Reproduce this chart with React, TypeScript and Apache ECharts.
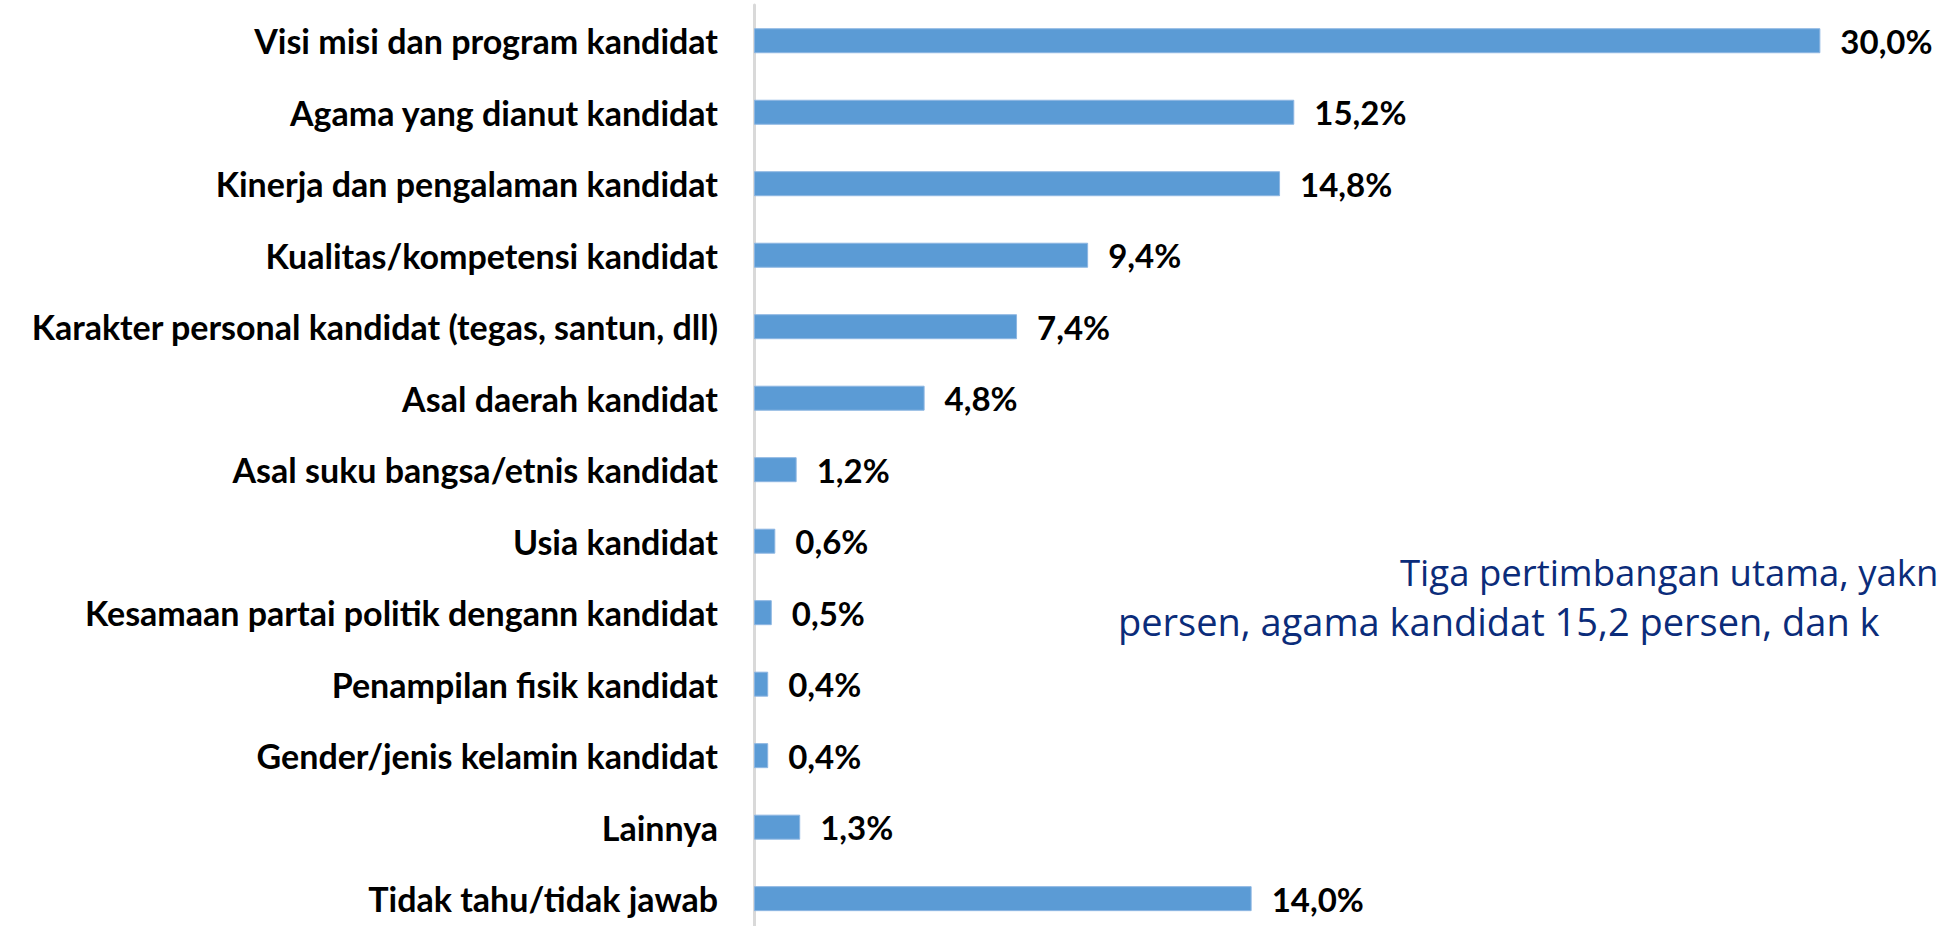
import React, { useEffect, useRef } from "react";
import * as echarts from "echarts";

const categories: string[] = [
  "Visi misi dan program kandidat",
  "Agama yang dianut kandidat",
  "Kinerja dan pengalaman kandidat",
  "Kualitas/kompetensi kandidat",
  "Karakter personal kandidat (tegas, santun, dll)",
  "Asal daerah kandidat",
  "Asal suku bangsa/etnis kandidat",
  "Usia kandidat",
  "Kesamaan partai politik dengann kandidat",
  "Penampilan fisik kandidat",
  "Gender/jenis kelamin kandidat",
  "Lainnya",
  "Tidak tahu/tidak jawab",
];

const values: number[] = [30.0, 15.2, 14.8, 9.4, 7.4, 4.8, 1.2, 0.6, 0.5, 0.4, 0.4, 1.3, 14.0];

const noteLines: string[] = [
  "Tiga pertimbangan utama, yakn",
  "persen, agama kandidat 15,2 persen, dan k",
];

const labelFont = "Lato, 'Open Sans', sans-serif";

export default function App() {
  const ref = useRef<HTMLDivElement>(null);

  useEffect(() => {
    if (!ref.current) return;
    const chart = echarts.init(ref.current, null, { renderer: "svg" });
    chart.setOption({
      animation: false,
      backgroundColor: "#ffffff",
      grid: {
        left: 754,
        right: 10,
        top: 5,
        bottom: -8.4,
        containLabel: false,
        outerBoundsMode: "none",
      },
      xAxis: {
        type: "value",
        min: 0,
        max: 33,
        show: false,
      },
      yAxis: {
        type: "category",
        data: categories,
        inverse: true,
        axisLine: { show: true, lineStyle: { color: "#d9d9d9", width: 3 } },
        axisTick: { show: false },
        splitLine: { show: false },
        axisLabel: {
          margin: 36,
          color: "#000000",
          fontFamily: labelFont,
          fontWeight: "bold",
          fontSize: 34,
        },
      },
      series: [
        {
          type: "bar",
          data: values,
          barWidth: 25,
          itemStyle: { color: "#5B9BD5", borderColor: "#8DB6E2", borderWidth: 1 },
          label: {
            show: true,
            position: "right",
            distance: 20,
            color: "#000000",
            fontFamily: labelFont,
            fontWeight: "bold",
            fontSize: 33,
            formatter: (p: any) => p.value.toFixed(1).replace(".", ",") + "%",
          },
        },
      ],
      graphic: [
        {
          type: "text",
          left: 1400,
          top: 553,
          style: {
            text: noteLines[0],
            fill: "#0B2C7A",
            font: "36.5px 'Open Sans', sans-serif",
          },
        },
        {
          type: "text",
          left: 1118,
          top: 602,
          style: {
            text: noteLines[1],
            fill: "#0B2C7A",
            font: "38px 'Open Sans', sans-serif",
          },
        },
      ],
    });
    return () => chart.dispose();
  }, []);

  return (
    <div
      ref={ref}
      style={{ position: "absolute", left: 0, top: 0, width: 1937, height: 926 }}
    />
  );
}
